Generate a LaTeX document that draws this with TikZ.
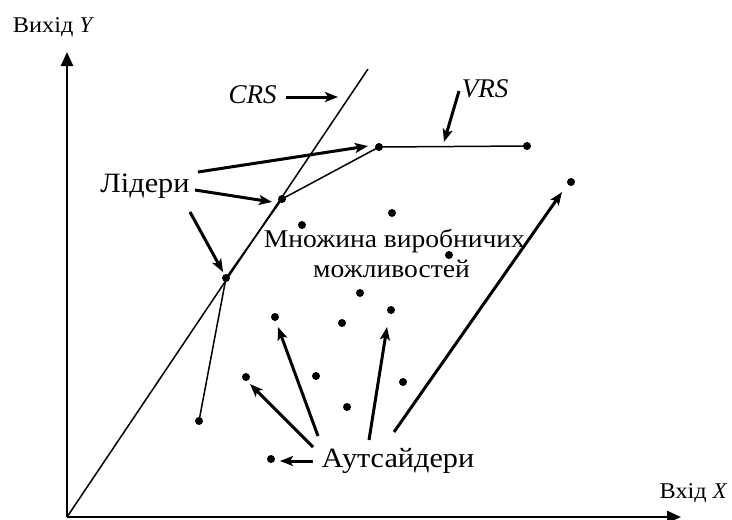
\documentclass[tikz,border=0pt]{standalone}
\usepackage{fontspec}
\setmainfont{Liberation Serif}[UprightFeatures={FakeStretch=1.08}]
\usetikzlibrary{arrows.meta}
\begin{document}
\begin{tikzpicture}[x=1pt,y=-1pt,
  dot/.style={circle,fill=black,inner sep=0pt,minimum size=8pt},
  thinline/.style={line width=1.5pt},
  pointer/.style={line width=3pt,-{Stealth[length=13pt,width=10pt,inset=3pt]}},
  axis/.style={line width=2.4pt,-{Triangle[length=14pt,width=12pt]}},
  txt/.style={inner sep=0pt,anchor=base},
  biglabel/.style={txt,font=\fontsize{28}{32}\selectfont},
  midlabel/.style={txt,font=\fontsize{25.5}{30}\selectfont},
  axlabel/.style={txt,font=\fontsize{22.5}{26}\selectfont},
  ratelabel/.style={txt,font=\fontsize{27}{31}\selectfont\itshape}]
\useasboundingbox (0,0) rectangle (732,520);

% axes
\coordinate (O) at (67,517);
\coordinate (Ytip) at (67,52);
\coordinate (Xtip) at (681,517);
\draw[axis] (O) -- (Ytip);
\draw[axis] (O) -- (Xtip);
\node[axlabel] (ylab) at (53.5,32) {Вихід \textit{Y}};
\node[axlabel] (xlab) at (693.5,498) {Вхід \textit{X}};

% constant returns to scale ray
\coordinate (crsend) at (368,69);
\draw[thinline] (O) -- (crsend);

% frontier points and observations
\node[dot] (f0) at (199,421) {};
\node[dot] (f1) at (226,278) {};
\node[dot] (f2) at (282,199) {};
\node[dot] (f3) at (379,147) {};
\node[dot] (f4) at (527,146) {};
\draw[thinline] (f0.center) -- (f1.center) -- (f2.center) -- (f3.center) -- (f4.center);

\node[dot] (q1) at (571,182) {};
\node[dot] (q2) at (302,225) {};
\node[dot] (q3) at (392,213) {};
\node[dot] (q4) at (449,255) {};
\node[dot] (q5) at (360,293) {};
\node[dot] (q6) at (391,310) {};
\node[dot] (q7) at (275,317) {};
\node[dot] (q8) at (342,323) {};
\node[dot] (q9) at (246,377) {};
\node[dot] (q10) at (316,376) {};
\node[dot] (q11) at (403,382) {};
\node[dot] (q12) at (347,407) {};
\node[dot] (q13) at (271,459) {};

% labels
\node[ratelabel] (crs) at (252.5,103) {CRS};
\node[ratelabel] (vrs) at (485,97) {VRS};
\node[biglabel] (lead) at (145,192) {Лідери};
\node[biglabel] (outs) at (398,467) {Аутсайдери};
\node[midlabel] (set1) at (394.5,247) {Множина виробничих};
\node[midlabel] (set2) at (391.5,277) {можливостей};

% pointers
\coordinate (crsA) at (286,97);
\coordinate (crsB) at (338,97);
\draw[pointer] (crsA) -- (crsB);
\coordinate (vrsA) at (459,91);
\coordinate (vrsB) at (444,142);
\draw[pointer] (vrsA) -- (vrsB);

\coordinate (l1) at (198,172);
\coordinate (l2) at (195,190);
\coordinate (l3) at (190,212);
\draw[pointer] (l1) -- (368,146);
\draw[pointer] (l2) -- (272,202);
\draw[pointer] (l3) -- (223,272);

\coordinate (o1) at (313,447);
\coordinate (o2) at (318,436);
\coordinate (o3) at (369,440);
\coordinate (o4) at (394,432);
\coordinate (o5) at (313,461);
\draw[pointer] (o1) -- (250,384);
\draw[pointer] (o2) -- (278,327);
\draw[pointer] (o3) -- (387,327);
\draw[pointer] (o4) -- (562,192);
\draw[pointer] (o5) -- (280,461);
\end{tikzpicture}
\end{document}
